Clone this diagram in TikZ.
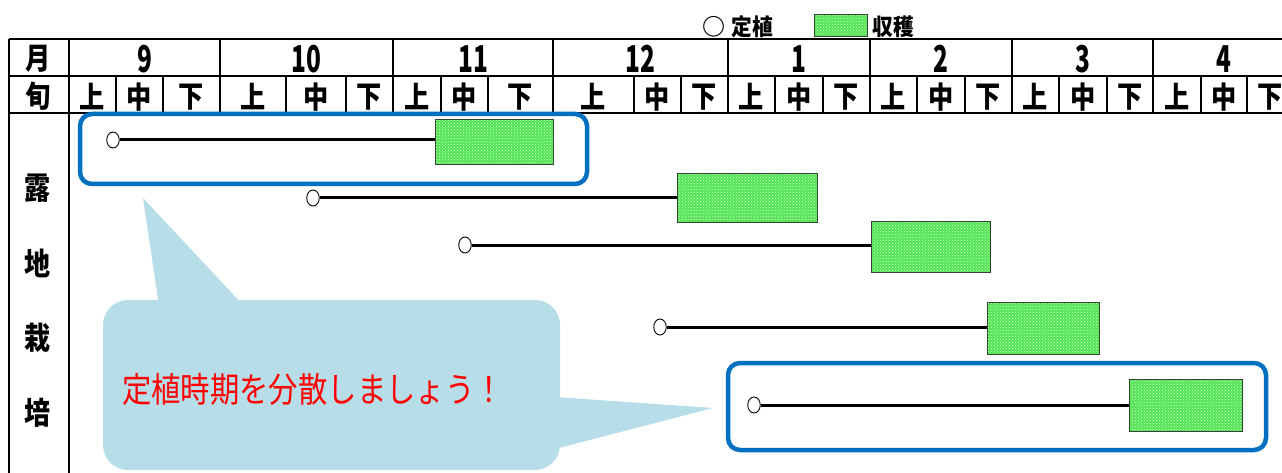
\documentclass[tikz,border=0pt]{standalone}
\usepackage{fontspec}
\usepackage{graphicx}
\usetikzlibrary{patterns,shapes.geometric}
\newfontfamily\jp{Noto Sans CJK JP}
\newcommand{\hd}[1]{\scalebox{0.84}[1]{#1}}
\newcommand{\dg}[1]{\scalebox{0.66}[1]{#1}}
\newcommand{\lgd}[1]{\scalebox{0.9}[1]{#1}}
\definecolor{hlblue}{RGB}{0,112,192}
\definecolor{callblue}{RGB}{183,221,232}
\definecolor{harvgreen}{RGB}{80,228,80}
\definecolor{harvedge}{RGB}{50,70,50}
\definecolor{msgred}{RGB}{255,0,0}
\begin{document}
\begin{tikzpicture}[x=1pt,y=-1pt,
  tbl/.style={line width=1.3pt,black},
  hdr/.style={font=\jp\bfseries\fontsize{30}{30}\selectfont,inner sep=0pt},
  dgt/.style={font=\jp\bfseries\fontsize{37}{37}\selectfont,inner sep=0pt},
  rowlab/.style={font=\jp\bfseries\fontsize{31}{31}\selectfont,inner sep=0pt},
  leg/.style={font=\jp\bfseries\fontsize{23}{23}\selectfont,inner sep=0pt},
  plant/.style={ellipse,draw=black,fill=white,line width=0.9pt,minimum width=12.5pt,minimum height=16pt,inner sep=0pt},
  harv/.style={rectangle,draw=harvedge,line width=1pt,inner sep=0pt,
     preaction={fill=harvgreen},pattern=crosshatch dots,pattern color=white!85!harvgreen},
  link/.style={line width=3pt,black},
  hlbox/.style={rectangle,draw=hlblue,line width=4.5pt,rounded corners=12pt,inner sep=0pt},
  callout/.style={fill=callblue}
]
\useasboundingbox (0,0) rectangle (1282,473);
% ---------- header table ----------
\draw[tbl] (9,39) -- (1282,39);
\draw[tbl] (9,76) -- (1282,76);
\draw[tbl] (9,113) -- (1282,113);
\draw[tbl] (9,39) -- (9,473);
\draw[tbl] (69,39) -- (69,473);
\foreach \x in {220,393,553,728,870,1012,1153}
  \draw[tbl] (\x,39) -- (\x,113);
\foreach \x in {116,163,286,346,441,488,634,681,775,823,917,965,1059,1107,1201,1247}
  \draw[tbl] (\x,76) -- (\x,113);
\node[hdr] (mon) at (38,59) {\hd{月}};
\node[hdr] (jun) at (38,96) {\hd{旬}};
\foreach \x/\t [count=\i] in {144.5/9,306.5/10,473/11,640.5/12,799/1,941/2,1082.5/3,1224/4}
  \node[dgt] (m\i) at (\x,59) {\dg{\t}};
\foreach \x/\t [count=\i] in {92.5/上,139.5/中,191.5/下,253/上,316/中,369.5/下,417/上,464.5/中,520.5/下,593.5/上,657.5/中,704.5/下,751.5/上,799/中,846.5/下,893.5/上,941/中,988.5/下,1035.5/上,1083/中,1130/下,1177/上,1224/中,1270.5/下}
  \node[hdr] (d\i) at (\x,97) {\hd{\t}};
% ---------- legend ----------
\node[leg] (lc) at (714,27) {○};
\node[leg] (lt) at (752,27) {\lgd{定植}};
\node[harv,minimum width=53pt,minimum height=22pt] (lb) at (840.5,26) {};
\node[leg] (lh) at (893.5,27) {\lgd{収穫}};
% ---------- row labels ----------
\node[rowlab] (r1) at (38,188) {\hd{露}};
\node[rowlab] (r2) at (38,263) {\hd{地}};
\node[rowlab] (r3) at (38,338) {\hd{栽}};
\node[rowlab] (r4) at (38,413) {\hd{培}};
% ---------- callout ----------
\fill[callout] (159,306) -- (143,198) -- (244,306) -- cycle;
\fill[callout] (555,397) -- (713,408) -- (555,449) -- cycle;
\fill[callout,rounded corners=25pt] (103,300) rectangle (560,470);
\node[font=\jp\fontsize{33}{33}\selectfont,text=msgred,inner sep=0pt] (msg) at (313,389) {\scalebox{0.89}[1.05]{定植時期を分散しましょう！}};
% ---------- rows ----------
\node[harv,minimum width=118pt,minimum height=45pt] (h1) at (494,142.5) {};
\node[harv,minimum width=140pt,minimum height=49pt] (h2) at (747,198.5) {};
\node[harv,minimum width=119pt,minimum height=50pt] (h3) at (930.5,247) {};
\node[harv,minimum width=112pt,minimum height=52pt] (h4) at (1043,328) {};
\node[harv,minimum width=113pt,minimum height=52pt] (h5) at (1185.5,405) {};
\node[plant] (p1) at (113,140) {};
\node[plant] (p2) at (313,198) {};
\node[plant] (p3) at (465,245) {};
\node[plant] (p4) at (660,327) {};
\node[plant] (p5) at (754,405) {};
\foreach \i in {1,...,5}
  \draw[link] (p\i) -- (p\i -| h\i.west);
% ---------- highlight boxes ----------
\node[hlbox,minimum width=507pt,minimum height=70pt] (hl1) at (333.5,149) {};
\node[hlbox,minimum width=538pt,minimum height=87pt] (hl2) at (997,406.5) {};
\end{tikzpicture}
\end{document}
